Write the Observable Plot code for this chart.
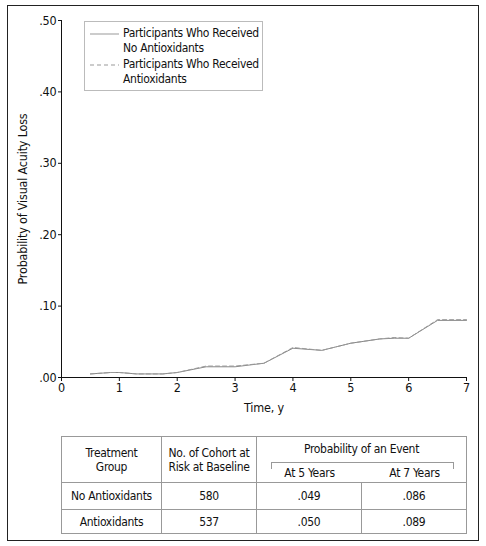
<!DOCTYPE html>
<html>
<head>
<meta charset="utf-8">
<script src="https://cdn.jsdelivr.net/npm/d3@7"></script>
<script src="https://cdn.jsdelivr.net/npm/@observablehq/plot@0.6"></script>
<style>
  html, body { margin: 0; padding: 0; background: #fff; }
  body { width: 486px; height: 546px; position: relative; overflow: hidden;
         font-family: "DejaVu Sans Condensed", "Liberation Sans Narrow", sans-serif; color: #111; letter-spacing: -0.3px; }
  #frame { position: absolute; left: 7px; top: 5px; width: 470px; height: 534px; border: 1px solid #222; box-sizing: content-box; pointer-events: none; }
  #chart { position: absolute; left: 0; top: 0; }
  #legend { position: absolute; left: 84px; top: 21px; width: 177px; height: 68px; border: 1px solid #bbb; background: #fff; font-size: 12px; line-height: 14.5px; }
  .lg-item { position: absolute; left: 0; }
  .lg-item svg { position: absolute; left: 5px; top: 7px; }
  .lg-item div { position: absolute; left: 38px; top: 0; white-space: nowrap; }
  table { position: absolute; left: 61px; top: 436px; border-collapse: collapse; font-size: 12px; table-layout: fixed; }
  td { border: 1px solid #999; text-align: center; padding: 0; line-height: 14px; }
  .hdr td { height: 45px; }
  .r1 td { height: 26px; }
  .r2 td { height: 23px; }
  .prob { position: relative; height: 45px; }
  .prob .t { position: absolute; left: 0; right: 0; top: 5px; }
  .prob .br { position: absolute; left: 14px; right: 12px; top: 25px; height: 6px; border: 1px solid #999; border-bottom: none; }
  .prob .a5 { position: absolute; left: 0; width: 105px; top: 29px; }
  .prob .a7 { position: absolute; left: 105px; width: 105px; top: 29px; }
</style>
</head>
<body>
<div id="chart"></div>
<div id="legend"></div>
<div id="tablewrap"></div>
<div id="frame"></div>
<script>
// ---- data ----
const times = [0.5, 0.85, 1.0, 1.3, 1.75, 2.0, 2.5, 3.0, 3.5, 4.0, 4.5, 5.0, 5.5, 5.75, 6.0, 6.5, 7.0];
const noAntioxidants = [0.005, 0.007, 0.007, 0.005, 0.005, 0.007, 0.015, 0.015, 0.020, 0.041, 0.038, 0.048, 0.054, 0.055, 0.055, 0.080, 0.080];
const antioxidants   = [0.005, 0.007, 0.007, 0.005, 0.005, 0.007, 0.016, 0.016, 0.020, 0.042, 0.038, 0.048, 0.054, 0.056, 0.055, 0.081, 0.081];
const seriesNames = ["Participants Who Received\nNo Antioxidants", "Participants Who Received\nAntioxidants"];
const xTicks = [0, 1, 2, 3, 4, 5, 6, 7];
const yTicks = [0, 0.1, 0.2, 0.3, 0.4, 0.5];
const xLabel = "Time, y";
const yLabel = "Probability of Visual Acuity Loss";

const tableHeaders = ["Treatment\nGroup", "No. of Cohort at\nRisk at Baseline", "Probability of an Event", "At 5 Years", "At 7 Years"];
const groups = ["No Antioxidants", "Antioxidants"];
const cohortN = [580, 537];
const probAt5 = [".049", ".050"];
const probAt7 = [".086", ".089"];

// ---- chart ----
const dataNo = times.map((t, i) => ({t, p: noAntioxidants[i]}));
const dataAnti = times.map((t, i) => ({t, p: antioxidants[i]}));
const fmtY = d => d3.format(".2f")(d).replace(/^0/, "");

const chart = Plot.plot({
  width: 486, height: 425,
  marginLeft: 61, marginRight: 20, marginTop: 20, marginBottom: 48,
  style: {fontFamily: '"DejaVu Sans Condensed", sans-serif', fontSize: "12.5px", letterSpacing: "-0.2px", color: "#111", background: "transparent"},
  x: {domain: [0, 7]},
  y: {domain: [0, 0.5]},
  marks: [
    Plot.axisX({ticks: xTicks, tickFormat: d => String(d), tickSize: 4, tickPadding: 2, label: xLabel, labelAnchor: "center", labelArrow: "none", labelOffset: 34, stroke: "#111", fill: "#111"}),
    Plot.axisY({ticks: yTicks, tickFormat: fmtY, tickSize: 3, tickPadding: 2, label: yLabel, labelAnchor: "center", labelArrow: "none", labelOffset: 43, stroke: "#111", fill: "#111"}),
    Plot.ruleX([0], {stroke: "#111"}),
    Plot.ruleY([0], {stroke: "#111"}),
    Plot.line(dataNo, {x: "t", y: "p", stroke: "#888", strokeWidth: 1}),
    Plot.line(dataAnti, {x: "t", y: "p", stroke: "#999", strokeWidth: 1, strokeDasharray: "4,3"})
  ]
});
document.getElementById("chart").appendChild(chart);

// ---- legend ----
const legend = document.getElementById("legend");
seriesNames.forEach((name, i) => {
  const item = document.createElement("div");
  item.className = "lg-item";
  item.style.top = (4 + i * 31) + "px";
  const dash = i === 1 ? ' stroke-dasharray="4,3"' : '';
  item.innerHTML = `<svg width="30" height="2"><line x1="0" y1="1" x2="29" y2="1" stroke="#999" stroke-width="1"${dash}/></svg>` +
    `<div>${name.replace("\n", "<br>")}</div>`;
  legend.appendChild(item);
});

// ---- table ----
const colW = [100, 95, 105, 105];
let html = `<table><colgroup>${colW.map(w => `<col style="width:${w}px">`).join("")}</colgroup>`;
html += `<tr class="hdr"><td>${tableHeaders[0].replace("\n", "<br>")}</td><td>${tableHeaders[1].replace("\n", "<br>")}</td>` +
  `<td colspan="2"><div class="prob"><div class="t">${tableHeaders[2]}</div><div class="br"></div>` +
  `<div class="a5">${tableHeaders[3]}</div><div class="a7">${tableHeaders[4]}</div></div></td></tr>`;
groups.forEach((g, i) => {
  html += `<tr class="r${i + 1}"><td>${g}</td><td>${cohortN[i]}</td><td>${probAt5[i]}</td><td>${probAt7[i]}</td></tr>`;
});
html += `</table>`;
document.getElementById("tablewrap").innerHTML = html;
</script>
</body>
</html>
